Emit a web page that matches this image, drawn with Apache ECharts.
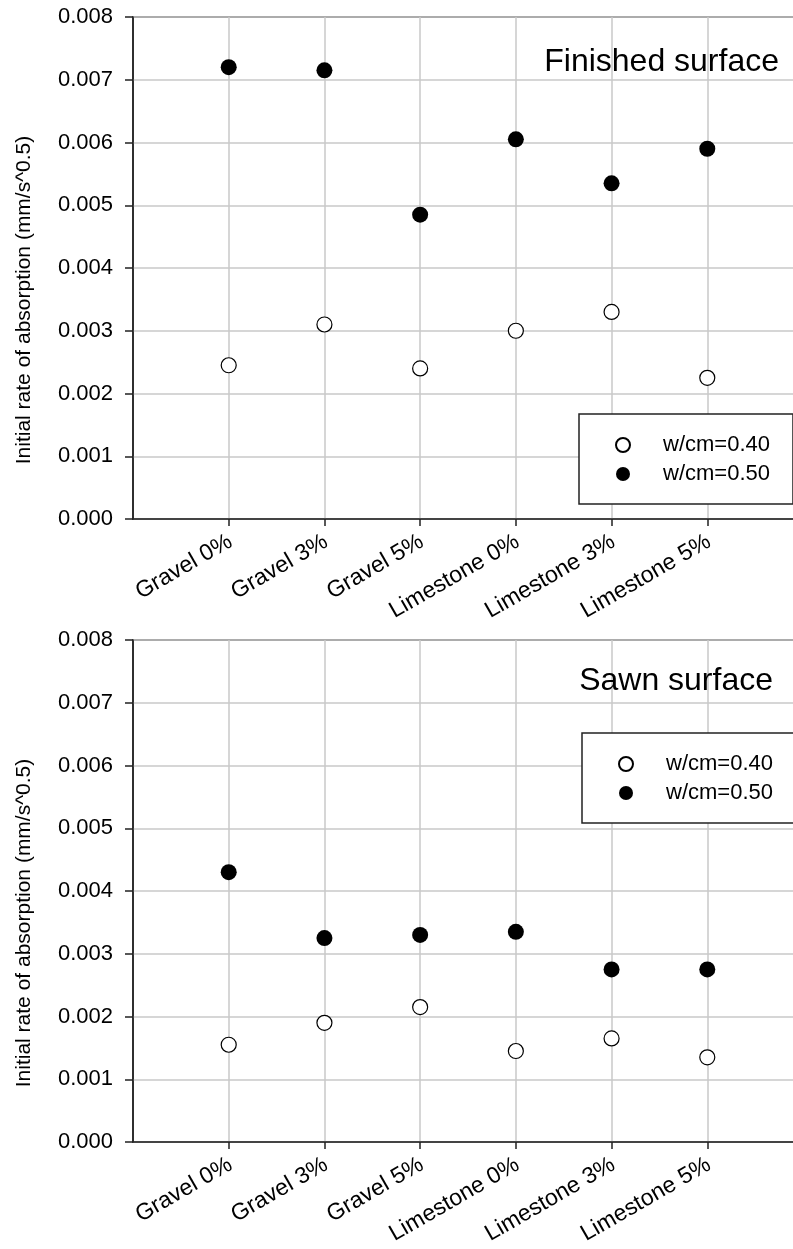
<!DOCTYPE html>
<html>
<head>
<meta charset="utf-8">
<script src="https://cdn.jsdelivr.net/npm/echarts@6/dist/echarts.min.js"></script>
<style>
html,body{margin:0;padding:0;background:#fff;}
#chart{width:793px;height:1249px;}
</style>
</head>
<body>
<div id="chart"></div>
<script>
const categories = ['Gravel 0%', 'Gravel 3%', 'Gravel 5%', 'Limestone 0%', 'Limestone 3%', 'Limestone 5%'];
const seriesNames = ['w/cm=0.40', 'w/cm=0.50'];
const panelTitles = ['Finished surface', 'Sawn surface'];
const yTicks = [0, 0.001, 0.002, 0.003, 0.004, 0.005, 0.006, 0.007, 0.008];
const finished040 = [0.00245, 0.0031, 0.0024, 0.0030, 0.0033, 0.00225];
const finished050 = [0.0072, 0.00715, 0.00485, 0.00605, 0.00535, 0.0059];
const sawn040 = [0.00155, 0.0019, 0.00215, 0.00145, 0.00165, 0.00135];
const sawn050 = [0.0043, 0.00325, 0.0033, 0.00335, 0.00275, 0.00275];
const yAxisName = 'Initial rate of absorption (mm/s^0.5)';

const FONT = 'Liberation Sans, Arial, Helvetica, sans-serif';
const catPos = categories.map((c, i) => i + 1);
const toPts = arr => arr.map((v, i) => [catPos[i], v]);

function gridDef(top) {
  return { left: 133, top: top, width: 670, height: 502, show: true, borderColor: '#222', borderWidth: 1.5, backgroundColor: 'transparent', containLabel: false, outerBoundsMode: 'none' };
}
function xAxisDef(gi) {
  return {
    type: 'value', gridIndex: gi, min: 0, max: 7, interval: 1,
    axisLine: { show: true, onZero: false, lineStyle: { color: '#222', width: 1.5 } },
    axisTick: { show: true, inside: false, length: 7, customValues: catPos, lineStyle: { color: '#222', width: 1.5 } },
    splitLine: { show: true, lineStyle: { color: '#c8c8c8', width: 1.5 } },
    axisLabel: {
      customValues: catPos, rotate: 30, margin: 22, fontSize: 23, color: '#000', fontFamily: FONT,
      padding: [0, -2, 0, 0],
      formatter: v => categories[Math.round(v) - 1] || ''
    }
  };
}
function yAxisDef(gi) {
  return {
    type: 'value', gridIndex: gi, min: 0, max: yTicks[yTicks.length - 1], interval: 0.001,
    name: yAxisName, nameLocation: 'middle', nameGap: 98, nameRotate: 90,
    nameTextStyle: { fontSize: 21, color: '#000', fontFamily: FONT, padding: [0, 64, 0, 0] },
    axisLine: { show: true, lineStyle: { color: '#222', width: 1.5 } },
    axisTick: { show: true, inside: false, length: 8, lineStyle: { color: '#222', width: 1.5 } },
    splitLine: { show: true, lineStyle: { color: '#c8c8c8', width: 1.5 } },
    axisLabel: { margin: 20, fontSize: 22, color: '#000', fontFamily: FONT, formatter: v => v.toFixed(3) }
  };
}
function openSeries(gi, data) {
  return { name: seriesNames[0], type: 'scatter', xAxisIndex: gi, yAxisIndex: gi, data: toPts(data), symbol: 'circle', symbolSize: 15,
    itemStyle: { color: '#fff', borderColor: '#000', borderWidth: 1.2, opacity: 1 }, z: 3 };
}
function filledSeries(gi, data) {
  return { name: seriesNames[1], type: 'scatter', xAxisIndex: gi, yAxisIndex: gi, data: toPts(data), symbol: 'circle', symbolSize: 16,
    itemStyle: { color: '#000', borderColor: '#000', borderWidth: 0, opacity: 1 }, z: 3 };
}
function legendDef(left, top) {
  return {
    orient: 'vertical', left: left, top: top, data: seriesNames, icon: 'circle',
    itemWidth: 14, itemHeight: 14, itemGap: 7,
    padding: [20, 23, 19, 36], borderColor: '#222', borderWidth: 1.5, borderRadius: 0, backgroundColor: '#fff',
    textStyle: { fontSize: 22, color: '#000', fontFamily: FONT, padding: [0, 0, 0, 28] },
    selectedMode: false
  };
}

const chart = echarts.init(document.getElementById('chart'), null, { renderer: 'canvas' });
chart.setOption({
  backgroundColor: '#fff',
  animation: false,
  textStyle: { fontFamily: FONT },
  title: [
    { text: panelTitles[0], right: 14, top: 46, padding: 0, textStyle: { fontSize: 32, fontWeight: 'normal', color: '#000', fontFamily: FONT } },
    { text: panelTitles[1], right: 20, top: 665, padding: 0, textStyle: { fontSize: 32, fontWeight: 'normal', color: '#000', fontFamily: FONT } }
  ],
  grid: [gridDef(17), gridDef(640)],
  xAxis: [xAxisDef(0), xAxisDef(1)],
  yAxis: [yAxisDef(0), yAxisDef(1)],
  legend: [legendDef(579, 414), legendDef(582, 733)],
  series: [openSeries(0, finished040), filledSeries(0, finished050), openSeries(1, sawn040), filledSeries(1, sawn050)]
});
</script>
</body>
</html>
